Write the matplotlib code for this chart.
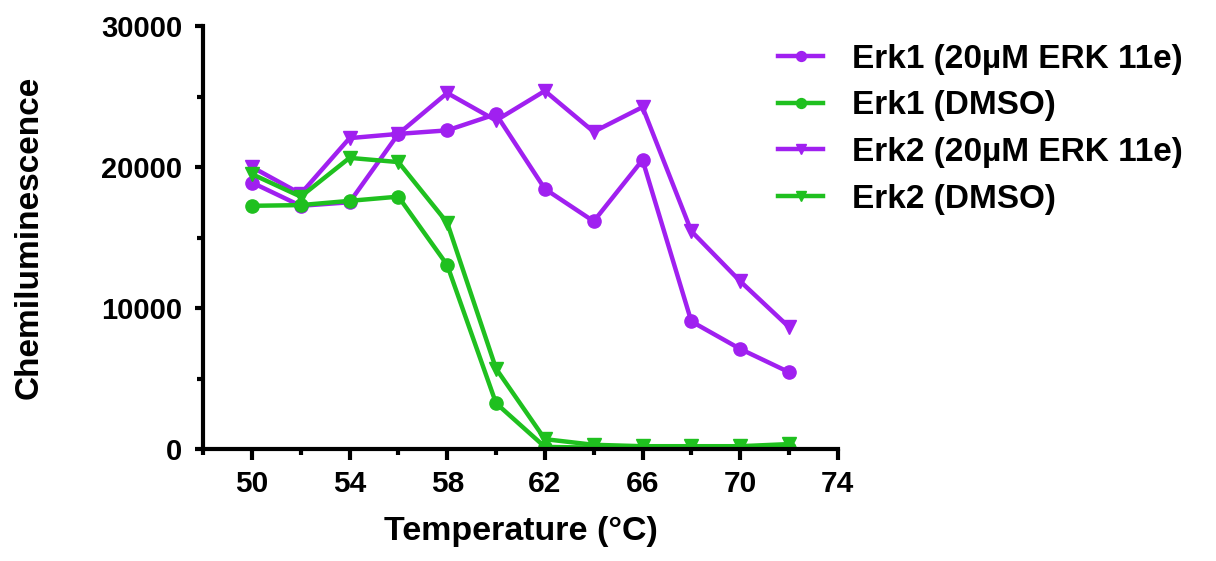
import matplotlib
matplotlib.use("Agg")
import matplotlib.pyplot as plt
from matplotlib.ticker import MultipleLocator

plt.rcParams['font.family'] = ['Liberation Sans', 'DejaVu Sans']
plt.rcParams['font.weight'] = 'bold'

temps = [50, 52, 54, 56, 58, 60, 62, 64, 66, 68, 70, 72]
erk1_11e = [18900, 17250, 17500, 22350, 22600, 23750, 18450, 16150, 20500, 9050, 7100, 5450]
erk1_dmso = [17250, 17300, 17600, 17900, 13050, 3250, 150, 100, 100, 100, 100, 100]
erk2_11e = [20000, 18100, 22050, 22350, 25250, 23300, 25400, 22500, 24250, 15450, 11900, 8650]
erk2_dmso = [19500, 17900, 20650, 20350, 16050, 5700, 700, 300, 200, 200, 200, 350]
labels = ['Erk1 (20µM ERK 11e)', 'Erk1 (DMSO)', 'Erk2 (20µM ERK 11e)', 'Erk2 (DMSO)']

purple = '#A020F0'
green = '#1FC01F'

fig = plt.figure(figsize=(12.16, 5.61), dpi=100)
ax = fig.add_axes([0.167, 0.1996, 0.522, 0.754])

ax.plot(temps, erk1_11e, color=purple, marker='o', markersize=9.5, lw=3.2, label=labels[0])
ax.plot(temps, erk1_dmso, color=green, marker='o', markersize=9.5, lw=3.2, label=labels[1])
ax.plot(temps, erk2_11e, color=purple, marker='v', markersize=10.5, lw=3.2, label=labels[2])
ax.plot(temps, erk2_dmso, color=green, marker='v', markersize=10.5, lw=3.2, label=labels[3])

ax.set_xlim(48, 74)
ax.set_ylim(0, 30000)
ax.set_xticks([50, 54, 58, 62, 66, 70, 74])
ax.xaxis.set_minor_locator(MultipleLocator(2))
ax.yaxis.set_major_locator(MultipleLocator(10000))
ax.yaxis.set_minor_locator(MultipleLocator(5000))

for s in ['top', 'right']:
    ax.spines[s].set_visible(False)
for s in ['left', 'bottom']:
    ax.spines[s].set_linewidth(3)

ax.tick_params(which='major', width=3)
ax.tick_params(which='minor', width=3)
ax.tick_params(axis='x', which='major', length=8, labelsize=21.5, pad=7)
ax.tick_params(axis='x', which='minor', length=4)
ax.tick_params(axis='y', which='major', length=6, labelsize=21, pad=9)
ax.tick_params(axis='y', which='minor', length=4)

ax.set_xlabel('Temperature (°C)', fontsize=24.5, fontweight='bold')
ax.xaxis.set_label_coords(0.5, -0.158)
ax.set_ylabel('Chemiluminescence', fontsize=24, fontweight='bold')
ax.yaxis.set_label_coords(-0.25, 0.5)

fig.legend(loc='upper left', bbox_to_anchor=(0.640, 0.922), frameon=False,
           fontsize=24, handlelength=1.35, labelspacing=0.47, handletextpad=0.87,
           borderpad=0, borderaxespad=0, markerscale=0.75)

fig.savefig('out.png', dpi=100)
